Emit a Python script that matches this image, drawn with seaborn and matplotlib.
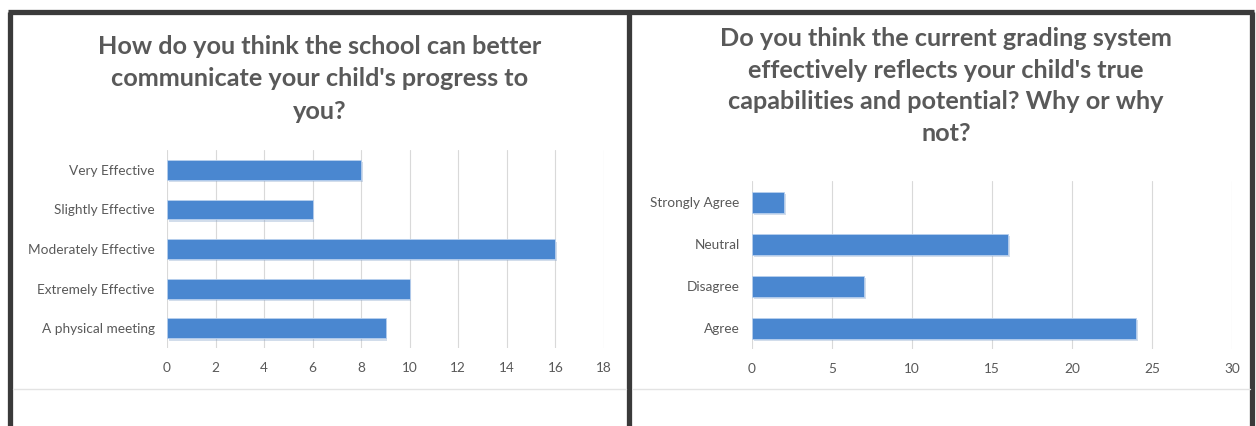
import matplotlib
matplotlib.use("Agg")
import matplotlib.pyplot as plt
import matplotlib.patheffects as pe
from matplotlib.lines import Line2D
import seaborn as sns
import pandas as pd

# ---- data ----
left_title = "How do you think the school can better\ncommunicate your child's progress to\nyou?"
left_categories = ["Very Effective", "Slightly Effective", "Moderately Effective",
                   "Extremely Effective", "A physical meeting"]
left_values = [8, 6, 16, 10, 9]
left_ticks = [0, 2, 4, 6, 8, 10, 12, 14, 16, 18]

right_title = ("Do you think the current grading system\neffectively reflects your child's true\n"
               "capabilities and potential? Why or why\nnot?")
right_categories = ["Strongly Agree", "Neutral", "Disagree", "Agree"]
right_values = [2, 16, 7, 24]
right_ticks = [0, 5, 10, 15, 20, 25, 30]

W, H = 1256, 426
BAR = "#4a87d0"
TXT = "#595959"
GRID = "#d9d9d9"

sns.set_theme(style="white")
plt.rcParams["font.family"] = ["Lato", "DejaVu Sans"]

fig = plt.figure(figsize=(W / 100, H / 100), dpi=100)
fig.patch.set_facecolor("white")


def rect(x0, y0, x1, y1):
    # pixel box (top-left origin) -> figure fraction [l, b, w, h]
    return [x0 / W, 1 - y1 / H, (x1 - x0) / W, (y1 - y0) / H]


def fx(x):
    return x / W


def fy(y):
    return 1 - y / H


def draw_panel(ax, cats, vals, ticks):
    df = pd.DataFrame({"cat": cats, "val": vals})
    sns.barplot(data=df, x="val", y="cat", ax=ax, color=BAR, width=0.5,
                saturation=1, orient="h")
    for p in ax.patches:
        p.set_path_effects([pe.SimplePatchShadow(offset=(1.2, -1.8), alpha=0.35,
                                                 shadow_rgbFace="#7f9fc8"),
                            pe.Normal()])
        p.set_edgecolor("#b8d0ee")
        p.set_linewidth(0.6)
    ax.set_xlim(ticks[0], ticks[-1])
    ax.set_xticks(ticks)
    ax.set_xticklabels([str(t) for t in ticks])
    ax.set_xlabel("")
    ax.set_ylabel("")
    ax.grid(axis="x", color=GRID, linewidth=0.8)
    ax.set_axisbelow(True)
    for s in ax.spines.values():
        s.set_visible(False)
    ax.tick_params(axis="both", length=0, labelsize=9.8, labelcolor=TXT)
    ax.tick_params(axis="x", pad=10)
    ax.tick_params(axis="y", pad=9)


axL = fig.add_axes(rect(167, 150, 604, 348))
draw_panel(axL, left_categories, left_values, left_ticks)

axR = fig.add_axes(rect(752, 181, 1232, 349))
draw_panel(axR, right_categories, right_values, right_ticks)

# titles
fig.text(fx(320), fy(79), left_title, ha="center", va="center", fontsize=18.2,
         fontweight="bold", color=TXT, linespacing=1.5)
fig.text(fx(946), fy(86), right_title, ha="center", va="center", fontsize=18.2,
         fontweight="bold", color=TXT, linespacing=1.45)

# panel frames
dark = "#3a3a3a"
lw = 3.8
for (x0, y0, x1, y1) in [(10, 12, 10, H + 5), (8, 12, 1254, 12), (629, 12, 629, H + 5),
                         (1252, 12, 1252, H + 5)]:
    fig.add_artist(Line2D([fx(x0), fx(x1)], [fy(y0), fy(y1)], color=dark, lw=lw,
                          solid_capstyle="butt", transform=fig.transFigure))
# light separators
for (x0, x1) in [(13, 626), (633, 1250)]:
    fig.add_artist(Line2D([fx(x0), fx(x1)], [fy(389), fy(389)], color="#e3e3e3", lw=1.0,
                          transform=fig.transFigure))

fig.savefig("out.png", dpi=100, facecolor="white")
